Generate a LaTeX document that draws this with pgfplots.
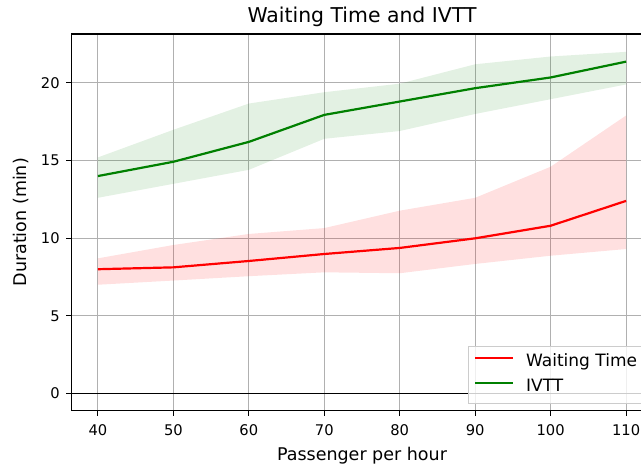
\documentclass[border=0pt]{standalone}
\usepackage{fontspec}
\setmainfont{DejaVu Sans}
\usepackage{pgfplots}
\pgfplotsset{compat=1.18}
\definecolor{gridgray}{HTML}{B0B0B0}
\definecolor{legframe}{HTML}{CCCCCC}
\definecolor{mplgreen}{HTML}{008000}
\definecolor{mplred}{HTML}{FF0000}
\begin{document}
\begin{tikzpicture}[trim left=0pt, trim right=641pt]
\path (0,0) rectangle (641pt,469pt);
\begin{axis}[
  at={(71.5pt,58.5pt)}, anchor=south west,
  scale only axis, width=581pt, height=376.5pt,
  xmin=36.5, xmax=113.5, ymin=-1.1, ymax=23.15,
  xtick={40,50,60,70,80,90,100,110}, ytick={0,5,10,15,20},
  grid=major, major grid style={gridgray, line width=1.15pt},
  axis line style={black, line width=1.15pt},
  tick align=outside, tick pos=left, major tick length=5.1pt,
  tick style={black, line width=1.15pt},
  /pgf/number format/assume math mode=true,
  ticklabel style={font=\fontsize{14.7}{17}\selectfont, inner sep=0pt},
  xticklabel style={anchor=base, yshift=-19.9pt},
  yticklabel style={anchor=east, xshift=-6.5pt},
  every axis title shift=0pt,
  title={Waiting Time and IVTT},
  title style={at={(axis description cs:0.5,1.0303)}, anchor=base, inner sep=0pt, font=\fontsize{20.4}{24}\selectfont},
  xlabel={Passenger per hour},
  every axis x label/.style={at={(axis description cs:0.5,-0.1328)}, anchor=base, inner sep=0pt, font=\fontsize{17.5}{21}\selectfont},
  ylabel={Duration (min)},
  every axis y label/.style={at={(axis description cs:-0.0783,0.5)}, rotate=90, anchor=base, inner sep=0pt, font=\fontsize{17.5}{21}\selectfont},
  legend cell align=left,
  legend style={
    at={(axis description cs:0.6824,0.1726)}, anchor=north west,
    draw=legframe, line width=1pt,
    fill=white, fill opacity=0.8, text opacity=1, draw opacity=1,
    font=\fontsize{17}{20}\selectfont,
    inner xsep=5.5pt, inner ysep=7.6pt,
    row sep=8.2pt, column sep=12.5pt,
    nodes={inner sep=0pt, text height=12.8pt, text depth=4pt},
  },
  legend image code/.code={\draw[#1, line width=2.2pt] (0pt,4pt) -- (37.5pt,4pt);},
]
% Waiting time band (upper edge, then lower edge reversed)
\addplot[fill=mplred, fill opacity=0.12, draw=none, forget plot] coordinates {
 (40,8.7) (50,9.56) (60,10.27) (70,10.65) (80,11.77) (90,12.6) (100,14.6) (110,17.9)
 (110,9.3) (100,8.87) (90,8.34) (80,7.74) (70,7.8) (60,7.55) (50,7.27) (40,7.0)} -- cycle;
% IVTT band
\addplot[fill=mplgreen, fill opacity=0.11, draw=none, forget plot] coordinates {
 (40,15.2) (50,16.98) (60,18.67) (70,19.4) (80,19.95) (90,21.2) (100,21.7) (110,22.0)
 (110,19.9) (100,18.95) (90,18.0) (80,16.9) (70,16.4) (60,14.4) (50,13.5) (40,12.6)} -- cycle;
% zero line
\addplot[black, line width=1.5pt, forget plot] coordinates {(36.5,0) (113.5,0)};
% lines
\addplot[mplred, line width=2.2pt] coordinates {
 (40,8.0) (50,8.12) (60,8.53) (70,8.98) (80,9.37) (90,9.99) (100,10.8) (110,12.4)};
\addlegendentry{Waiting Time}
\addplot[mplgreen, line width=2.2pt] coordinates {
 (40,14.0) (50,14.92) (60,16.2) (70,17.94) (80,18.8) (90,19.66) (100,20.35) (110,21.37)};
\addlegendentry{IVTT}
\end{axis}
\end{tikzpicture}
\end{document}
